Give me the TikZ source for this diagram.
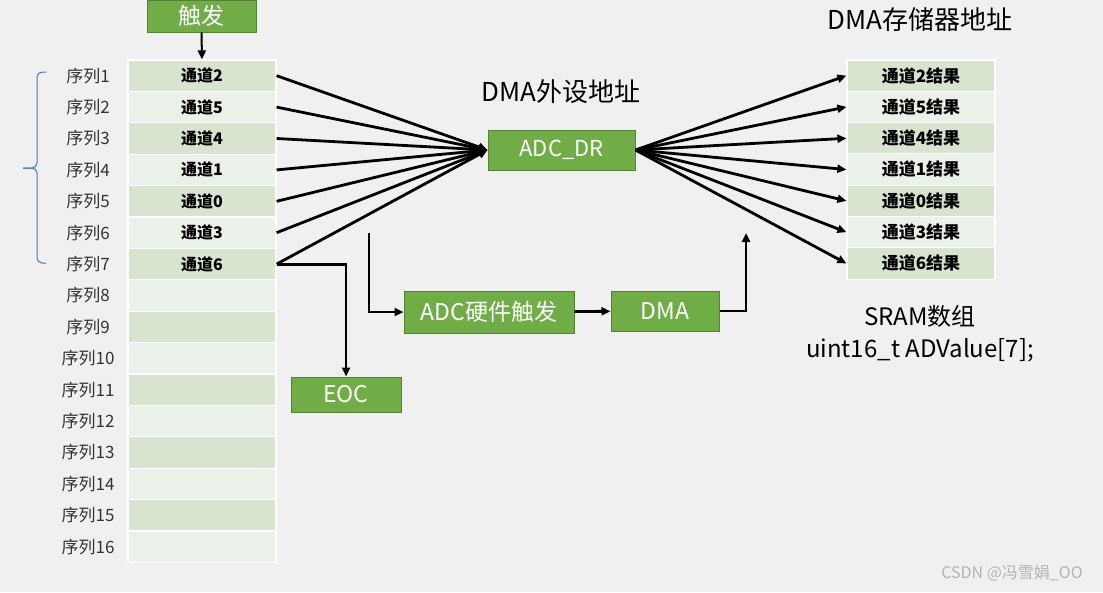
\documentclass[tikz,border=0pt]{standalone}
\usepackage{fontspec}
\setmainfont{Noto Sans CJK SC}
\usetikzlibrary{arrows.meta}

\definecolor{bgc}{HTML}{F0F0F0}
\definecolor{boxgreen}{HTML}{70AD47}
\definecolor{boxedge}{HTML}{548235}
\definecolor{rowdark}{HTML}{D8E4D0}
\definecolor{rowlight}{HTML}{EBF0E8}
\definecolor{bracecol}{HTML}{4472C4}

\begin{document}
\begin{tikzpicture}[x=1pt, y=-1pt, >={Triangle[length=9pt,width=8pt]},
    greenbox/.style={draw=boxedge, line width=1pt, fill=boxgreen, text=white,
      inner sep=0pt, font=\fontsize{23}{27}\selectfont},
    cell/.style={draw=white, line width=1.2pt, minimum width=148pt,
      minimum height=31.4pt, inner sep=0pt, font=\fontsize{16}{19}\selectfont\bfseries},
    seqlabel/.style={text=black!80, font=\fontsize{17}{20}\selectfont},
    title/.style={font=\fontsize{26}{30}\selectfont},
    wire/.style={line width=2.8pt}]

    \fill[bgc] (0,0) rectangle (1103,592);
    \useasboundingbox (0,0) rectangle (1103,592);

    % sequence table
    \foreach \i/\ch in {1/2,2/5,3/4,4/1,5/0,6/3,7/6} {
      \ifodd\i \def\rowc{rowdark}\else \def\rowc{rowlight}\fi
      \node[cell, fill=\rowc] (ch\i) at (202, {60+31.4*(\i-0.5)}) {通道\ch};
    }
    \foreach \i in {8,...,16} {
      \ifodd\i \def\rowc{rowdark}\else \def\rowc{rowlight}\fi
      \node[cell, fill=\rowc] (ch\i) at (202, {60+31.4*(\i-0.5)}) {};
    }
    \foreach \i in {1,...,16}
      \node[seqlabel] (seq\i) at (88, {60+31.4*(\i-0.5)}) {序列\i};

    \begin{scope}[bracecol, line width=1pt, rounded corners=5pt]
      \draw (46,72) -- (37,72) -- (37,168) -- (23,168);
      \draw (23,168) -- (37,168) -- (37,263) -- (46,263);
    \end{scope}

    \node[greenbox, minimum width=109pt, minimum height=32pt] (trig) at (201.5,16) {触发};
    \draw[->, line width=2pt] (trig.south) -- (ch1.north);

    % peripheral side
    \node[title] (periph) at (561,92) {DMA外设地址};
    \node[greenbox, minimum width=147pt, minimum height=40pt, font=\fontsize{22}{26}\selectfont] (adcdr) at (561.5,150) {ADC\_DR};
    \foreach \i in {1,...,7}
      \draw[wire, ->] (ch\i.east) -- (adcdr.west);

    % memory side
    \node[title] (memory) at (920,20) {DMA存储器地址};
    \foreach \i/\ch in {1/2,2/5,3/4,4/1,5/0,6/3,7/6} {
      \ifodd\i \def\rowc{rowdark}\else \def\rowc{rowlight}\fi
      \node[cell, fill=\rowc, font=\fontsize{17}{20}\selectfont\bfseries] (res\i) at (921, {60+31.3*(\i-0.5)}) {通道\ch{}结果};
    }
    \foreach \i in {1,...,7}
      \draw[wire, ->] (adcdr.east) -- (res\i.west);
    \node[title, align=center, font=\fontsize{24}{32}\selectfont] (sram) at (920,334) {SRAM数组\\uint16\_t ADValue[7];};

    % trigger path
    \node[greenbox, minimum width=170pt, minimum height=42pt] (hwtrig) at (489,312) {ADC硬件触发};
    \node[greenbox, minimum width=108pt, minimum height=40pt] (dma) at (665,311) {DMA};
    \node[greenbox, minimum width=110pt, minimum height=35pt] (eoc) at (346,394.5) {EOC};
    \coordinate (hwin) at (369,233);
    \coordinate (dmaout) at (746,233);
    \draw[wire, ->] (hwin) |- (hwtrig.west);
    \draw[wire, ->] (hwtrig) -- (dma);
    \draw[wire, ->] (dma.east) -| (dmaout);
    \draw[wire, ->] (ch7.east) -| (eoc.north);

    \node[text=gray!60, font=\fontsize{16}{18}\selectfont] (mark) at (1012,573) {CSDN @冯雪娟\_OO};
\end{tikzpicture}
\end{document}
